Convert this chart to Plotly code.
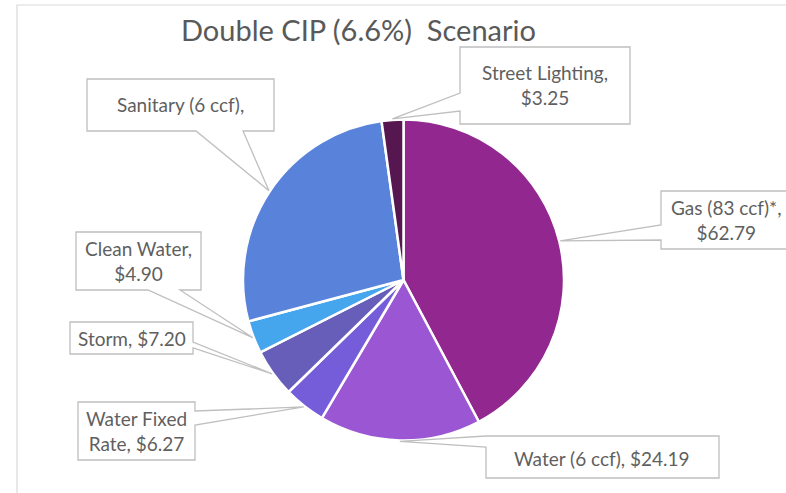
import math
import plotly.graph_objects as go

W, H = 786, 493

# slice data, clockwise from 12 o'clock
labels = ["Gas (83 ccf)*", "Water (6 ccf)", "Water Fixed Rate", "Storm",
          "Clean Water", "Sanitary (6 ccf)", "Street Lighting"]
values = [62.79, 24.19, 6.27, 7.20, 4.90, 40.10, 3.25]
colors = ["#92278F", "#9B57D3", "#755DD9", "#665EB8",
          "#45A5ED", "#5982DB", "#561650"]

# callout text formats (Sanitary value is cut off in the source chart)
label_fmt = ["{n},<br>${v:.2f}", "{n}, ${v:.2f}", "Water Fixed<br>Rate, ${v:.2f}",
             "{n}, ${v:.2f}", "{n},<br>${v:.2f}", "{n},", "{n},<br>${v:.2f}"]

# pie placement in pixels
CX, CY, R = 403.5, 280.0, 160.5

# callout boxes: (left, top, right, bottom), side the pointer leaves from, pointer base
boxes = [
    ((661, 191, 800, 249), "left", 225, 240),
    ((486, 436, 719, 478), "left", 436, 447),
    ((78, 402, 195, 460), "right", 411, 425),
    ((70, 322, 193, 354), "right", 342, 348),
    ((76, 232, 201, 290), "bottom", 148, 180),
    ((87, 79, 274, 131), "bottom", 196, 243),
    ((460, 47, 630, 124), "left", 93, 111),
]
text_pos = [(726, 220), (602, 458), (136.5, 431), (131.5, 338),
            (138.5, 261), (180, 105), (545, 85)]


def px(x):
    return x / W


def py(y):
    return 1 - y / H


def callout_path(box, side, a1, a2, tip):
    l, t, r, b = box
    tx, ty = tip
    if side == "left":
        pts = [(l, t), (r, t), (r, b), (l, b), (l, a2), (tx, ty), (l, a1)]
    elif side == "right":
        pts = [(l, t), (r, t), (r, a1), (tx, ty), (r, a2), (r, b), (l, b)]
    else:
        pts = [(l, t), (r, t), (r, b), (a2, b), (tx, ty), (a1, b), (l, b)]
    return "M " + " L ".join(f"{px(x):.5f},{py(y):.5f}" for x, y in pts) + " Z"


fig = go.Figure(go.Pie(
    labels=labels,
    values=values,
    sort=False,
    direction="clockwise",
    rotation=0,
    textinfo="none",
    hoverinfo="label+value",
    marker=dict(colors=colors, line=dict(color="white", width=2.5)),
    domain=dict(x=[px(CX - R), px(CX + R)], y=[py(CY + R), py(CY - R)]),
))

shapes = [dict(type="rect", xref="paper", yref="paper",
               x0=px(17), x1=px(W + 10), y0=py(H + 10), y1=py(5),
               line=dict(color="#D9D9D9", width=1.2), fillcolor="rgba(0,0,0,0)",
               layer="below")]
annotations = []

total = sum(values)
cum = 0
for i, (name, v) in enumerate(zip(labels, values)):
    mid = (cum + v / 2) / total * 2 * math.pi
    cum += v
    tip = (CX + (R + 1) * math.sin(mid), CY - (R + 1) * math.cos(mid))
    box, side, a1, a2 = boxes[i]
    shapes.append(dict(type="path", xref="paper", yref="paper",
                       path=callout_path(box, side, a1, a2, tip),
                       line=dict(color="#BFBFBF", width=1.3),
                       fillcolor="white", layer="above"))
    tx, tyy = text_pos[i]
    annotations.append(dict(
        x=px(tx), y=py(tyy), xref="paper", yref="paper",
        xanchor="center", yanchor="middle", showarrow=False, align="center",
        text=label_fmt[i].format(n=name, v=v),
        font=dict(family="Lato", size=19, color="#5F5F5F"),
    ))

annotations.append(dict(
    x=px(358), y=py(30), xref="paper", yref="paper",
    xanchor="center", yanchor="middle", showarrow=False,
    text="Double CIP (6.6%)\u00a0 Scenario",
    font=dict(family="Lato", size=29, color="#595959"),
))

fig.update_layout(
    width=W, height=H,
    margin=dict(l=0, r=0, t=0, b=0),
    paper_bgcolor="white",
    showlegend=False,
    shapes=shapes,
    annotations=annotations,
)

fig.write_html("out.html", config={"displayModeBar": False},
               post_script="document.body.style.margin='0';document.body.style.overflow='hidden';")
